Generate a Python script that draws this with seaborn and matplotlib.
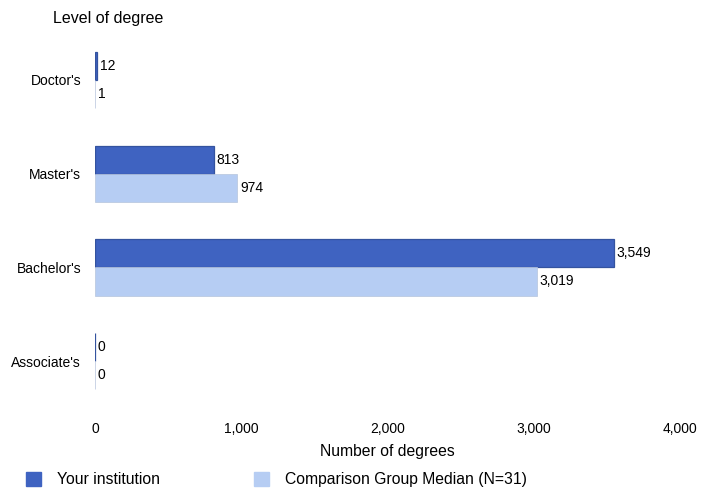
import pandas as pd
import seaborn as sns
import matplotlib.pyplot as plt

levels = ["Doctor's", "Master's", "Bachelor's", "Associate's"]
series = ["Your institution", "Comparison Group Median (N=31)"]
yours = [12, 813, 3549, 0]
comparison = [1, 974, 3019, 0]

df = pd.DataFrame({
    "level": levels * 2,
    "group": [series[0]] * 4 + [series[1]] * 4,
    "degrees": yours + comparison,
})

sns.set_style("white")
plt.rcParams["font.family"] = ["Liberation Sans", "DejaVu Sans"]
plt.rcParams["text.color"] = "black"
plt.rcParams["axes.labelcolor"] = "black"
plt.rcParams["xtick.color"] = "black"
plt.rcParams["ytick.color"] = "black"

fig = plt.figure(figsize=(7.14, 4.9), dpi=100)
ax = fig.add_axes([0.1331, 0.1673, 0.8193, 0.7653])

palette = {series[0]: "#3f63c1", series[1]: "#b6cdf3"}
sns.barplot(data=df, y="level", x="degrees", hue="group", order=levels,
            hue_order=series, palette=palette, orient="h", width=0.6,
            saturation=1, legend=False, ax=ax)
# thin outline so zero-length bars still show as a stroke at 0
for cont, name in zip(ax.containers, series):
    for bar in cont:
        bar.set_edgecolor("#34539f" if name == series[0] else "#b6c4dc")
        bar.set_linewidth(0.9 if name == series[0] else 0.5)
    ax.bar_label(cont, labels=[f"{v:,.0f}" for v in cont.datavalues],
                 padding=2, fontsize=10, color="black")

ax.set_xlim(0, 4000)
ax.set_ylim(3.5, -0.5)
ax.set_xticks([0, 1000, 2000, 3000, 4000])
ax.set_xticklabels(["0", "1,000", "2,000", "3,000", "4,000"])
ax.tick_params(axis="x", length=0, pad=10, labelsize=10)
ax.tick_params(axis="y", length=0, pad=10, labelsize=10)
ax.set_xlabel("Number of degrees", fontsize=11.3, labelpad=6)
ax.set_ylabel("")
for s in ax.spines.values():
    s.set_visible(False)
fig.text(53 / 714, 1 - 18 / 490, "Level of degree", fontsize=11.5, va="center")

handles = [plt.Rectangle((0, 0), 1, 1, color=palette[s]) for s in series]
fig.legend(handles, series, loc="center left", bbox_to_anchor=(0.017, 0.021),
           ncol=2, frameon=False, fontsize=11.3, handlelength=0.95,
           handleheight=0.95, columnspacing=6.0, handletextpad=1.0)

fig.savefig("out.png", dpi=100)
